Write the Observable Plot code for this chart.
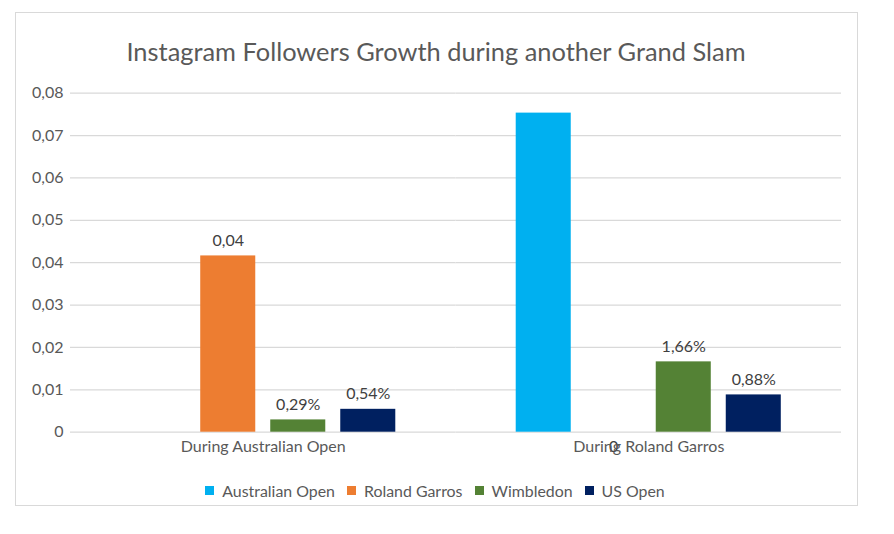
<!DOCTYPE html>
<html>
<head>
<meta charset="utf-8">
<script src="https://cdn.jsdelivr.net/npm/d3@7"></script>
<script src="https://cdn.jsdelivr.net/npm/@observablehq/plot@0.6"></script>
<style>
  html, body { margin: 0; padding: 0; background: #fff; }
  #wrap { position: relative; width: 894px; height: 534px; overflow: hidden; font-family: Lato, "Open Sans", sans-serif; }
  #frame { position: absolute; left: 15px; top: 12px; width: 841px; height: 492px; border: 1px solid #D9D9D9; box-sizing: content-box; }
  #title { position: absolute; left: 15px; width: 842px; top: 34px; line-height: 34px; text-align: center; font-size: 25.4px; color: #595959; }
  #chart { position: absolute; left: 0; top: 0; }
  #legend { position: absolute; left: 0; width: 870px; top: 480px; height: 20px; display: flex; justify-content: center; align-items: center; font-size: 15.9px; color: #595959; }
  .item { display: flex; align-items: center; margin: 0 6px; }
  .sw { width: 9px; height: 9px; margin-right: 8px; }
</style>
</head>
<body>
<div id="wrap">
  <div id="frame"></div>
  <div id="chart"></div>
  <div id="title">Instagram Followers Growth during another Grand Slam</div>
  <div id="legend"></div>
</div>
<script>
const groups = ["During Australian Open", "During Roland Garros"];
const series = ["Australian Open", "Roland Garros", "Wimbledon", "US Open"];
const colors = ["#00B0F0", "#ED7D31", "#548235", "#002060"];
const valuesAO = [0, 0.0416, 0.0029, 0.0054];
const valuesRG = [0.0753, 0, 0.0166, 0.0088];
const labelsAO = ["", "0,04", "0,29%", "0,54%"];
const labelsRG = ["", "0", "1,66%", "0,88%"];
const yTicks = [0, 0.01, 0.02, 0.03, 0.04, 0.05, 0.06, 0.07, 0.08];
const yTickLabels = ["0", "0,01", "0,02", "0,03", "0,04", "0,05", "0,06", "0,07", "0,08"];

const rows = [];
series.forEach((s, i) => {
  rows.push({group: groups[0], series: s, value: valuesAO[i], label: labelsAO[i]});
  rows.push({group: groups[1], series: s, value: valuesRG[i], label: labelsRG[i]});
});

const chart = Plot.plot({
  width: 894,
  height: 460,
  marginLeft: 70,
  marginRight: 53,
  marginTop: 92.7,
  marginBottom: 28.3,
  style: {fontFamily: "Lato, 'Open Sans', sans-serif", color: "#595959", background: "transparent"},
  fx: {domain: groups, padding: 0, round: false, label: null, axis: null},
  x: {domain: series, paddingInner: 0.214, paddingOuter: 0.86, round: false, axis: null},
  y: {domain: [0, 0.08], axis: null},
  color: {domain: series, range: colors},
  marks: [
    Plot.ruleY(yTicks, {stroke: "#D9D9D9", strokeWidth: 1.2}),
    Plot.barY(rows, {fx: "group", x: "series", y: "value", fill: "series"}),
    Plot.text(rows.filter(d => d.label && d.value > 0), {fx: "group", x: "series", y: "value", text: "label", dy: -15, fontSize: 16, fill: "#404040"}),
    Plot.text(rows.filter(d => d.label && d.value === 0), {fx: "group", x: "series", y: "value", text: "label", dy: 15, fontSize: 16, fill: "#404040"}),
    Plot.axisY({ticks: yTicks, tickFormat: (d, i) => yTickLabels[i], tickSize: 0, tickPadding: 7, fontSize: 16, label: null}),
    Plot.axisFx({anchor: "bottom", tickSize: 0, tickPadding: 8, fontSize: 16, label: null})
  ]
});
document.getElementById("chart").appendChild(chart);

const legend = document.getElementById("legend");
series.forEach((s, i) => {
  const it = document.createElement("div");
  it.className = "item";
  const sw = document.createElement("div");
  sw.className = "sw";
  sw.style.background = colors[i];
  const tx = document.createElement("span");
  tx.textContent = s;
  it.appendChild(sw);
  it.appendChild(tx);
  legend.appendChild(it);
});
</script>
</body>
</html>
